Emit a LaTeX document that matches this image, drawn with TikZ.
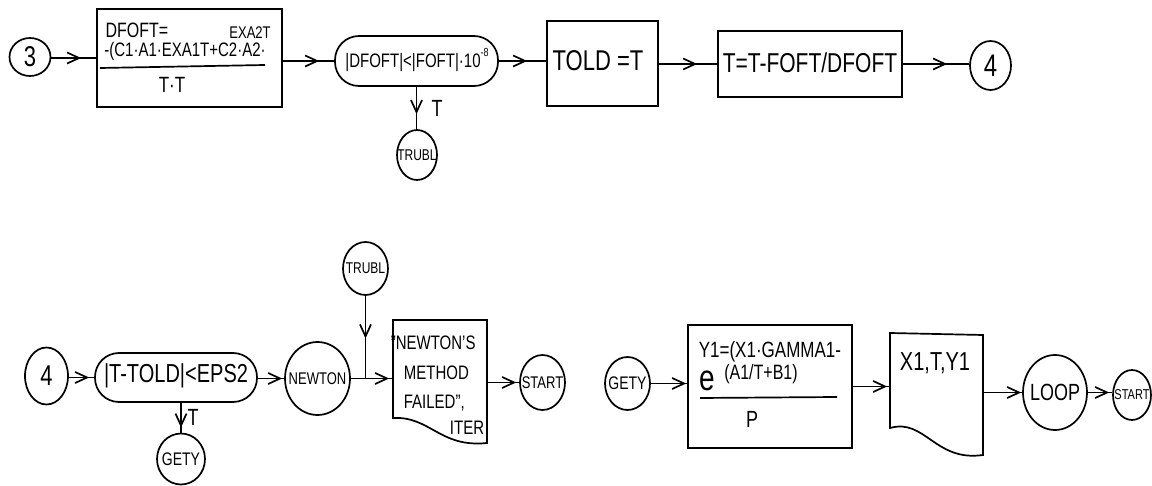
\documentclass[tikz,border=0pt]{standalone}
\usepackage{fontspec}
\usepackage{graphicx}
\setmainfont{Liberation Sans}
\usetikzlibrary{arrows.meta,decorations.markings,shapes.geometric,calc}
\newcommand{\fsz}[1]{\fontsize{#1}{#1}\selectfont}
\newcommand{\hs}[1]{\scalebox{1}[1.3]{#1}}
\begin{document}
\begin{tikzpicture}[x=1pt,y=-1pt, line width=1.7pt,
  ell/.style={draw, ellipse, inner sep=0pt},
  boxnode/.style={draw, rectangle, inner sep=0pt},
  stad/.style={draw, rectangle, rounded corners=24pt, inner sep=0pt},
  txt/.style={inner sep=0pt},
  flow/.style={postaction={decorate}, decoration={markings, mark=at position #1 with {\arrow{Straight Barb[length=12pt,width=11pt]}}}},
  flow/.default=-1pt]
\useasboundingbox (0,0) rectangle (1152,486);
\fill[white] (0,0) rectangle (1152,486);

% ---------- top row ----------
\node[ell, minimum width=41pt, minimum height=38pt] (c3) at (30,57) {};
\node[txt, font=\fsz{22}] (c3t) at (c3) {\hs{3}};
\node[boxnode, minimum width=185pt, minimum height=98pt] (box1) at (189.5,58) {};
\node[txt, font=\fsz{16}] (b1a) at (137,30) {\hs{DFOFT=}};
\node[txt, font=\fsz{13}] (b1b) at (250,33) {\hs{EXA2T}};
\node[txt, font=\fsz{15}] (b1c) at (185,51) {\hs{-(C1·A1·EXA1T+C2·A2·}};
\draw (100,68) -- (265,65);
\node[txt, font=\fsz{17}] (b1d) at (172,85) {\hs{T·T}};

\node[stad, minimum width=163pt, minimum height=50pt] (st1) at (416.5,61) {};
\node[txt, font=\fsz{15}] (st1t) at (417,60) {\hs{|DFOFT|<|FOFT|·10\raisebox{0.55em}{\fsz{9}-8}}};

\node[boxnode, minimum width=111pt, minimum height=85pt] (told) at (602.5,63.5) {};
\node[txt, font=\fsz{22}] (toldt) at (598,61) {\hs{TOLD =T}};
\node[boxnode, minimum width=184pt, minimum height=66pt] (box3) at (810,64) {};
\node[txt, font=\fsz{21}] (box3t) at (810,63) {\hs{T=T-FOFT/DFOFT}};
\node[ell, minimum width=41pt, minimum height=49pt] (c4) at (990.5,65.5) {};
\node[txt, font=\fsz{24}] (c4t) at (c4) {\hs{4}};
\node[ell, minimum width=40pt, minimum height=50pt] (trubl1) at (417,155) {};
\node[txt, font=\fsz{12}] (trubl1t) at (trubl1) {\hs{TRUBL}};
\node[txt, font=\fsz{18}] (tl1) at (437,108) {\hs{T}};

\draw[flow=-15pt] (c3.east |- box1.west) -- (box1.west);
\draw[flow=-15pt] (box1.east |- st1.west) -- (st1.west);
\draw[flow=-19pt] (st1.east) -- (st1.east -| told.west);
\draw[flow=-20pt] (told.east |- box3.west) -- (box3.west);
\draw[flow=-22pt] (box3.east) -- (box3.east -| c4.west);
\draw[flow=-15pt] (st1.south) -- (st1.south |- trubl1.north);

% ---------- bottom row ----------
\node[ell, minimum width=43pt, minimum height=57pt] (c4b) at (46.5,376) {};
\node[txt, font=\fsz{22}] (c4bt) at (c4b) {\hs{4}};
\node[stad, minimum width=162pt, minimum height=49pt] (st2) at (176,377.5) {};
\node[txt, font=\fsz{20}] (st2t) at (176,376) {\hs{|T-TOLD|<EPS2}};
\node[ell, minimum width=48pt, minimum height=51pt] (gety1) at (181,459) {};
\node[txt, font=\fsz{14}] (gety1t) at (gety1) {\hs{GETY}};
\node[txt, font=\fsz{18}] (tl2) at (193,417) {\hs{T}};
\node[ell, minimum width=65pt, minimum height=73pt] (newton) at (317.5,378.5) {};
\node[txt, font=\fsz{13}] (newtont) at (newton) {\hs{NEWTON}};
\node[ell, minimum width=45pt, minimum height=53pt] (trubl2) at (365.5,268.5) {};
\node[txt, font=\fsz{12}] (trubl2t) at (trubl2) {\hs{TRUBL}};

\node[inner sep=0pt, minimum width=94pt, minimum height=125pt] (doc1) at (440,382.5) {};
\draw (393,320) -- (487,320) -- (487,443) .. controls (440,448) and (430,416) .. (393,418) -- cycle;
\node[txt, font=\fsz{15}, anchor=west] (d1a) at (390,343) {\hs{"NEWTON'S}};
\node[txt, font=\fsz{15}, anchor=west] (d1b) at (403,373) {\hs{METHOD}};
\node[txt, font=\fsz{15}, anchor=west] (d1c) at (403,403) {\hs{FAILED",}};
\node[txt, font=\fsz{15}, anchor=east] (d1d) at (485,428) {\hs{ITER}};

\node[ell, minimum width=45pt, minimum height=55pt] (start1) at (542.5,382.5) {};
\node[txt, font=\fsz{13}] (start1t) at (start1) {\hs{START}};
\node[ell, minimum width=45pt, minimum height=53pt] (gety2) at (627.5,383.5) {};
\node[txt, font=\fsz{14}] (gety2t) at (gety2) {\hs{GETY}};

\node[boxnode, minimum width=164pt, minimum height=123pt] (box4) at (770,386.5) {};
\node[txt, font=\fsz{17}, anchor=west] (b4a) at (698,352) {\hs{Y1=(X1·GAMMA1-}};
\node[txt, font=\fsz{28}] (b4b) at (707,381) {\hs{e}};
\node[txt, font=\fsz{16}] (b4c) at (761,374) {\hs{(A1/T+B1)}};
\draw (700,398) -- (837,397);
\node[txt, font=\fsz{18}] (b4d) at (752,419) {\hs{P}};

\node[inner sep=0pt, minimum width=93pt, minimum height=125pt] (doc2) at (936.5,395.5) {};
\draw (890,333) -- (983,335) -- (983,455) .. controls (935,462) and (925,418) .. (890,428) -- cycle;
\node[txt, font=\fsz{20}] (doc2t) at (935,363) {\hs{X1,T,Y1}};
\node[ell, minimum width=64pt, minimum height=75pt] (loop) at (1055,392.5) {};
\node[txt, font=\fsz{18}] (loopt) at (loop) {\hs{LOOP}};
\node[ell, minimum width=38pt, minimum height=50pt] (start2) at (1132,395) {};
\node[txt, font=\fsz{11}] (start2t) at (start2) {\hs{START}};

\draw[flow=-5pt] (c4b.east |- st2.west) -- (st2.west);
\draw[flow=-2pt] (st2.east |- newton.west) -- (newton.west);
\draw[flow=-5pt] (gety1.north |- st2.south) -- (gety1.north);
\draw[flow=-3pt] (newton.east) -- (newton.east -| doc1.west);
\coordinate (j1) at (trubl2.south |- newton.east);
\draw[flow=-40pt] (trubl2.south) -- (j1);
\draw[flow=-3pt] (doc1.east |- start1.west) -- (start1.west);
\draw[flow=-1pt] (gety2.east) -- (gety2.east -| box4.west);
\draw[flow=-2pt] (box4.east) -- (box4.east -| doc2.west);
\draw[flow=-1pt] (loop.west -| doc2.east) -- (loop.west);
\draw[flow=-3pt] (loop.east) -- (loop.east -| start2.west);
\end{tikzpicture}
\end{document}
